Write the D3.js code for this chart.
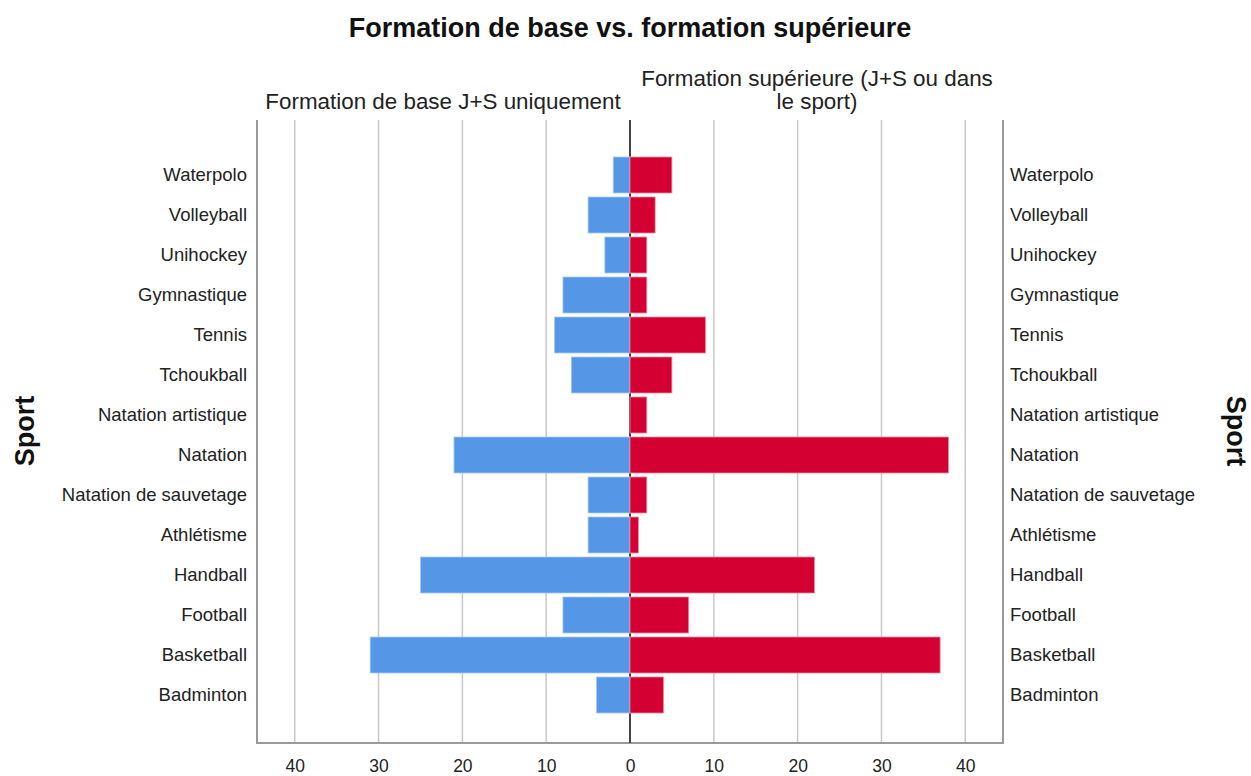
<!DOCTYPE html>
<html>
<head>
<meta charset="utf-8">
<script src="https://cdn.jsdelivr.net/npm/d3@7"></script>
<style>
  body { margin: 0; background: #fff; }
  svg { display: block; font-family: "Liberation Sans", Arial, sans-serif; }
</style>
</head>
<body>
<svg id="chart" width="1251" height="776"></svg>
<script>
const categories = ["Waterpolo","Volleyball","Unihockey","Gymnastique","Tennis","Tchoukball","Natation artistique","Natation","Natation de sauvetage","Athlétisme","Handball","Football","Basketball","Badminton"];
const baseValues = [2,5,3,8,9,7,0,21,5,5,25,8,31,4];
const superieurValues = [5,3,2,2,9,5,2,38,2,1,22,7,37,4];
const tickValues = [-40,-30,-20,-10,0,10,20,30,40];
const title = "Formation de base vs. formation supérieure";
const leftHeader = ["Formation de base J+S uniquement"];
const rightHeader = ["Formation supérieure (J+S ou dans", "le sport)"];
const axisTitle = "Sport";

const svg = d3.select("#chart");
const plot = {left: 257, right: 1003, top: 120, bottom: 743};

const x = d3.scaleLinear().domain([-44.5, 44.5]).range([plot.left, plot.right]);
const y = d3.scaleBand().domain(categories).range([155, 715]).paddingInner(0.1).paddingOuter(0.05);

// gridlines
svg.append("g").selectAll("line").data(tickValues.filter(d => d !== 0)).join("line")
  .attr("x1", d => x(d)).attr("x2", d => x(d))
  .attr("y1", plot.top).attr("y2", plot.bottom)
  .attr("stroke", "#c8c8c8").attr("stroke-width", 1.5);

// borders
svg.append("line").attr("x1", plot.left).attr("x2", plot.left).attr("y1", plot.top).attr("y2", plot.bottom)
  .attr("stroke", "#9a9a9a").attr("stroke-width", 2);
svg.append("line").attr("x1", plot.right).attr("x2", plot.right).attr("y1", plot.top).attr("y2", plot.bottom)
  .attr("stroke", "#9a9a9a").attr("stroke-width", 2);
svg.append("line").attr("x1", plot.left - 1).attr("x2", plot.right + 1).attr("y1", plot.bottom).attr("y2", plot.bottom)
  .attr("stroke", "#9a9a9a").attr("stroke-width", 2);

// zero line
svg.append("line").attr("x1", x(0)).attr("x2", x(0)).attr("y1", plot.top).attr("y2", plot.bottom)
  .attr("stroke", "#444").attr("stroke-width", 2);

// bars
const bw = y.bandwidth();
svg.append("g").selectAll("rect").data(categories.map((c, i) => ({c, v: baseValues[i]}))).join("rect")
  .filter(d => d.v > 0)
  .attr("x", d => x(-d.v)).attr("width", d => x(0) - x(-d.v))
  .attr("y", d => y(d.c)).attr("height", bw)
  .attr("fill", "#5596e6").attr("stroke", "#a9c8f2").attr("stroke-width", 0.8);
svg.append("g").selectAll("rect").data(categories.map((c, i) => ({c, v: superieurValues[i]}))).join("rect")
  .attr("x", x(0)).attr("width", d => x(d.v) - x(0))
  .attr("y", d => y(d.c)).attr("height", bw)
  .attr("fill", "#d50032").attr("stroke", "#ec8aa0").attr("stroke-width", 0.8);

// category labels
const yc = d => y(d) + bw / 2;
svg.append("g").selectAll("text").data(categories).join("text")
  .attr("x", 247).attr("y", yc).attr("dy", "0.35em").attr("text-anchor", "end")
  .attr("font-size", 18.5).attr("fill", "#222").text(d => d);
svg.append("g").selectAll("text").data(categories).join("text")
  .attr("x", 1010).attr("y", yc).attr("dy", "0.35em").attr("text-anchor", "start")
  .attr("font-size", 18.5).attr("fill", "#222").text(d => d);

// bottom axis
const axis = d3.axisBottom(x).tickValues(tickValues).tickSize(0).tickPadding(0).tickFormat(d => Math.abs(d));
const ax = svg.append("g").attr("transform", `translate(0,${plot.bottom + 29})`).call(axis);
ax.select(".domain").remove();
ax.selectAll("text").attr("font-size", 17.5).attr("fill", "#222").attr("font-family", "Liberation Sans, Arial, sans-serif").attr("dy", 0);

// headers
svg.append("text").attr("x", 630).attr("y", 37).attr("text-anchor", "middle")
  .attr("font-size", 27).attr("font-weight", "bold").attr("fill", "#111").text(title);
svg.append("text").attr("x", 443).attr("y", 109).attr("text-anchor", "middle")
  .attr("font-size", 22.4).attr("fill", "#222").text(leftHeader[0]);
rightHeader.forEach((t, i) => {
  svg.append("text").attr("x", 817).attr("y", 86 + i * 23).attr("text-anchor", "middle")
    .attr("font-size", 22.4).attr("fill", "#222").text(t);
});

// axis titles
svg.append("text").attr("transform", "translate(34,431) rotate(-90)").attr("text-anchor", "middle")
  .attr("font-size", 27).attr("font-weight", "bold").attr("fill", "#111").text(axisTitle);
svg.append("text").attr("transform", "translate(1227,431) rotate(90)").attr("text-anchor", "middle")
  .attr("font-size", 27).attr("font-weight", "bold").attr("fill", "#111").text(axisTitle);
</script>
</body>
</html>
